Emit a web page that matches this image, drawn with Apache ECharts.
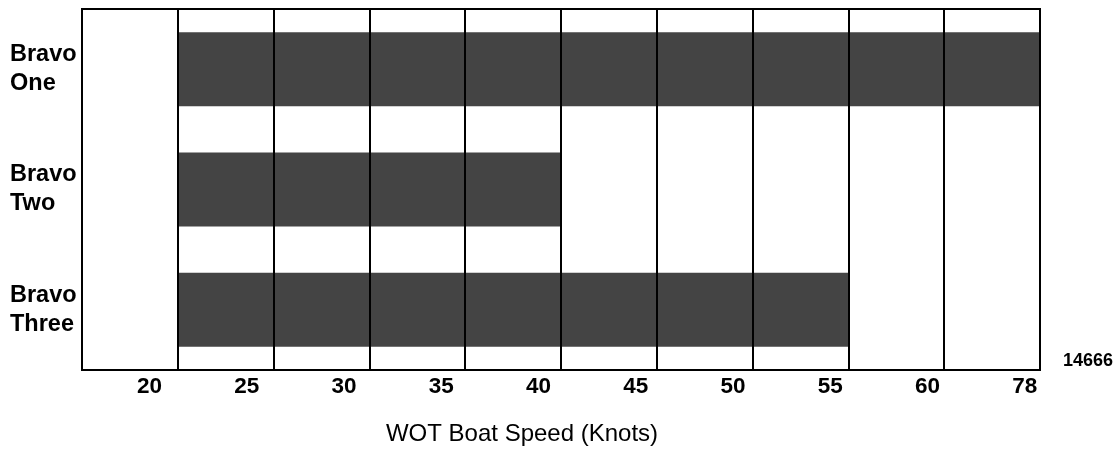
<!DOCTYPE html>
<html>
<head>
<meta charset="utf-8">
<script src="https://cdn.jsdelivr.net/npm/echarts@6/dist/echarts.min.js"></script>
<style>
  html, body { margin: 0; padding: 0; background: #fff; }
  #chart { width: 1119px; height: 451px; }
</style>
</head>
<body>
<div id="chart"></div>
<script>
// ---- data ----
const speeds = ['20', '25', '30', '35', '40', '45', '50', '55', '60', '78'];
const engines = ['Bravo\nOne', 'Bravo\nTwo', 'Bravo\nThree'];
const rangeFrom = ['25', '25', '25'];
const rangeTo = ['78', '40', '55'];
const axisTitle = 'WOT Boat Speed (Knots)';
const figureCode = '14666';

// ---- derived ----
const startIdx = rangeFrom.map(s => speeds.indexOf(s));
const spanLen = rangeTo.map((s, i) => speeds.indexOf(s) + 1 - startIdx[i]);

const FONT = "'Liberation Sans', Arial, sans-serif";
const chart = echarts.init(document.getElementById('chart'), null, { renderer: 'canvas' });

chart.setOption({
  animation: false,
  grid: [
    { left: 82, top: 9, width: 958, height: 361, show: true, borderColor: '#000', borderWidth: 2, backgroundColor: 'transparent', z: 10 },
    { left: 100.9, top: 9, width: 972.4, height: 361, show: false }
  ],
  xAxis: [
    {
      type: 'value', gridIndex: 0, min: 0, max: speeds.length, interval: 1, z: 10,
      axisLine: { show: true, lineStyle: { color: '#000', width: 2 } },
      axisTick: { show: false },
      axisLabel: { show: false },
      splitLine: { show: true, lineStyle: { color: '#000', width: 2 } }
    },
    {
      type: 'category', gridIndex: 1, data: speeds, boundaryGap: true,
      axisLine: { show: false }, axisTick: { show: false }, splitLine: { show: false },
      axisLabel: {
        interval: 0, margin: 17, verticalAlign: 'middle',
        color: '#000', fontFamily: FONT, fontWeight: 'bold', fontSize: 22.5
      }
    }
  ],
  yAxis: [
    {
      type: 'category', gridIndex: 0, data: engines, inverse: true, z: 10,
      axisLine: { show: true, lineStyle: { color: '#000', width: 2 } },
      axisTick: { show: false },
      splitLine: { show: false },
      axisLabel: {
        align: 'left', margin: 72, color: '#000', fontFamily: FONT,
        fontWeight: 'bold', fontSize: 23.5, lineHeight: 29, padding: [0, 0, 12, 0]
      }
    },
    { type: 'value', gridIndex: 1, show: false }
  ],
  series: [
    {
      type: 'bar', stack: 'range', xAxisIndex: 0, yAxisIndex: 0, data: startIdx,
      barWidth: 74, silent: true, itemStyle: { color: 'transparent' }, emphasis: { disabled: true }
    },
    {
      type: 'bar', stack: 'range', xAxisIndex: 0, yAxisIndex: 0, data: spanLen,
      barWidth: 74, itemStyle: { color: '#444444' }, emphasis: { disabled: true }
    }
  ],
  graphic: [
    {
      type: 'text', x: 522, y: 434,
      style: { text: axisTitle, align: 'center', verticalAlign: 'middle', fill: '#000', font: "24px " + FONT }
    },
    {
      type: 'text', x: 1088, y: 361,
      style: { text: figureCode, align: 'center', verticalAlign: 'middle', fill: '#000', font: "bold 18px " + FONT }
    }
  ]
});
</script>
</body>
</html>
